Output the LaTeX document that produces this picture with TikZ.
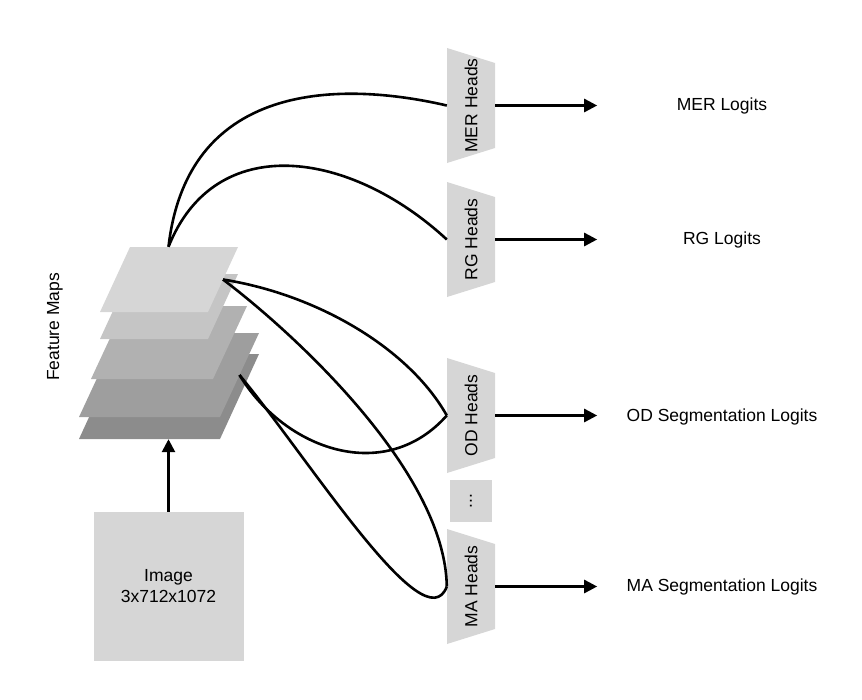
\documentclass[tikz,border=0pt]{standalone}
\usepackage{fontspec}
\setmainfont{Liberation Sans}
\usepackage{graphicx}
\usetikzlibrary{arrows.meta,positioning,fit}
\definecolor{boxgray}{HTML}{D6D6D6}
\definecolor{fmA}{HTML}{D6D6D6}
\definecolor{fmB}{HTML}{C5C5C5}
\definecolor{fmC}{HTML}{B1B1B1}
\definecolor{fmD}{HTML}{9E9E9E}
\definecolor{fmE}{HTML}{8C8C8C}

\begin{document}
\begin{tikzpicture}[x=1pt,y=-1pt,
  every node/.style={font=\fontsize{17.5}{21}\selectfont},
  headbox/.style={minimum width=48pt,minimum height=115pt,inner sep=0pt,
    path picture={\fill[boxgray] (path picture bounding box.north west)
      -- ([yshift=-15pt]path picture bounding box.north east)
      -- ([yshift=15pt]path picture bounding box.south east)
      -- (path picture bounding box.south west) -- cycle;}},
  plainbox/.style={fill=boxgray,inner sep=0pt,align=center},
  ar/.style={-{Triangle[length=13pt,width=13pt]},line width=2.6pt},
  link/.style={line width=2.6pt}]
\useasboundingbox (0,0) rectangle (862,699);
% feature map layers, bottom one first
\foreach \nm/\col/\ty/\h/\bx/\w/\dx in {l5/fmE/354/85/79/141/39,l4/fmD/333/84/79/141/39,
    l3/fmC/306/73/91/122/34,l2/fmB/274/65/100/108/30,l1/fmA/247/65/100/108/30}{
  \fill[\col] (\bx,\ty+\h) -- ++(\w,0) -- ++(\dx,-\h) -- ++(-\w,0) -- cycle;
  \coordinate (\nm-e) at (\bx+\w+\dx/2,\ty+\h/2);
}
\node[fit={(79,247) (258,439)},inner sep=0pt] (fm) {};
\node[rotate=90] (fmlabel) at (55,327) {Feature Maps};
\node[plainbox,minimum width=150pt,minimum height=149pt] (img) at (168.5,586.5) {Image\\3x712x1072};
\draw[ar] (img.north) -- (fm.south);
% heads
\node[headbox] (mer) at (471,105.5) {\rotatebox{90}{MER Heads}};
\node[headbox] (rg) at (471,239.5) {\rotatebox{90}{RG Heads}};
\node[headbox] (od) at (471,415.5) {\rotatebox{90}{OD Heads}};
\node[plainbox,minimum width=42pt,minimum height=42pt] (dots) at (471,501) {\rotatebox{90}{...}};
\node[headbox] (ma) at (471,586.5) {\rotatebox{90}{MA Heads}};
% outputs
\node (merlog) at (722,106) {MER Logits};
\node (rglog) at (722,240) {RG Logits};
\node (odlog) at (722,417) {OD Segmentation Logits};
\node (malog) at (722,587) {MA Segmentation Logits};
\foreach \x in {mer,rg,od,ma} {
  \coordinate (\x-out) at ([xshift=102pt]\x.east);
  \draw[ar] (\x.east) -- (\x-out);
}
% links from the feature maps
\draw[link] (fm.north) .. controls (190,60) and (380,90) .. (mer.west);
\draw[link] (fm.north) .. controls (215,130) and (350,150) .. (rg.west);
\draw[link] (l1-e) .. controls (320,295) and (410,350) .. (od.west);
\draw[link] (l1-e) .. controls (290,330) and (445,470) .. (ma.west);
\draw[link] (l4-e) .. controls (285,450) and (385,485) .. (od.west);
\draw[link] (l4-e) .. controls (310,460) and (425,645) .. (ma.west);
\end{tikzpicture}
\end{document}
